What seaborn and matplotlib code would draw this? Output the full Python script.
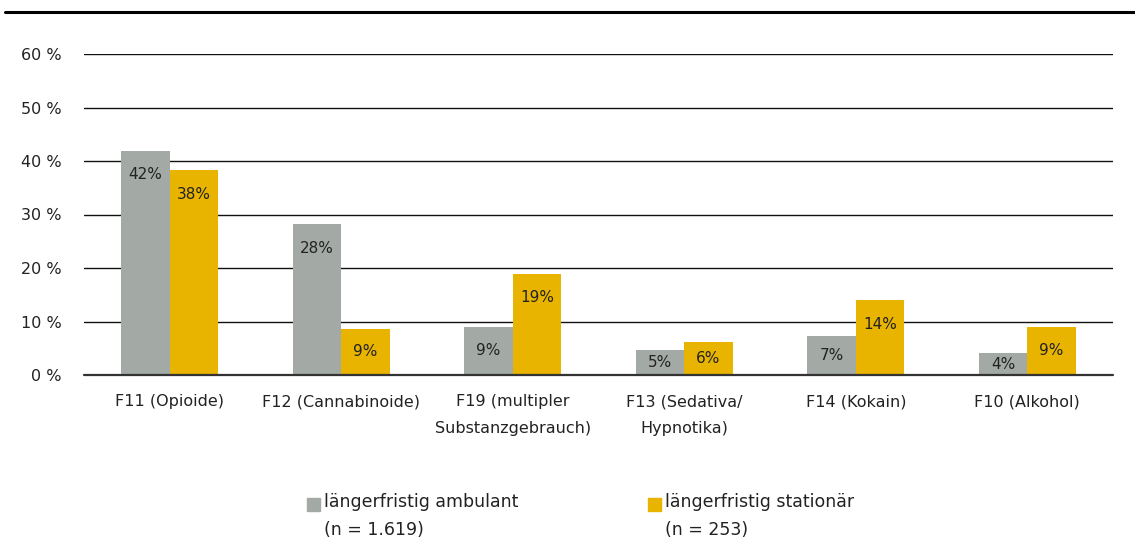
import pandas as pd
import numpy as np
import matplotlib.pyplot as plt
import seaborn as sns
from matplotlib.lines import Line2D
from matplotlib.patches import Rectangle

# --- data ---
categories = ["F11 (Opioide)", "F12 (Cannabinoide)", "F19 (multipler\nSubstanzgebrauch)",
              "F13 (Sedativa/\nHypnotika)", "F14 (Kokain)", "F10 (Alkohol)"]
ambulant = [41.9, 28.2, 9.0, 4.7, 7.3, 4.1]
stationaer = [38.3, 8.6, 18.9, 6.2, 14.0, 9.0]
labels_ambulant = ["42%", "28%", "9%", "5%", "7%", "4%"]
labels_stationaer = ["38%", "9%", "19%", "6%", "14%", "9%"]
series_names = ["längerfristig ambulant", "längerfristig stationär"]
series_n = ["(n = 1.619)", "(n = 253)"]
yticks = [0, 10, 20, 30, 40, 50, 60]

colors = ["#a3aaa5", "#e8b400"]
txt = "#222222"

df = pd.DataFrame({
    "kategorie": categories * 2,
    "anteil": ambulant + stationaer,
    "gruppe": [series_names[0]] * len(categories) + [series_names[1]] * len(categories),
})

sns.set_style("white")
plt.rcParams['font.family'] = ['DejaVu Sans']

fig = plt.figure(figsize=(11.35, 5.55), dpi=100)
ax = fig.add_axes([84 / 1135, 1 - 375 / 555, (1113 - 84) / 1135, (375 - 54) / 555])

sns.barplot(data=df, x="kategorie", y="anteil", hue="gruppe", palette=colors,
            width=0.566, gap=0, saturation=1, legend=False, ax=ax, zorder=3,
            linewidth=0)

ax.set_ylim(0, 60)
ax.set_xlim(-0.5, len(categories) - 0.5)

# value labels inside the bars: ~24 px below the top, or centred in short bars
px_per_unit = (375 - 54) / 60
for cont, labs in zip(ax.containers, [labels_ambulant, labels_stationaer]):
    for bar, lab in zip(cont, labs):
        h = bar.get_height()
        off_px = min(24, h * px_per_unit / 2)
        ax.annotate(lab, (bar.get_x() + bar.get_width() / 2, h),
                    xytext=(0, -off_px * 72 / 100), textcoords="offset points",
                    ha="center", va="center", fontsize=11, color=txt, zorder=5)

ax.set_yticks(yticks)
ax.set_yticklabels([f"{t} %" for t in yticks], fontsize=11.5, color=txt)
ax.tick_params(axis="y", length=0, pad=16)
ax.tick_params(axis="x", length=0, pad=14, labelsize=11.5, labelcolor=txt)
for t in ax.get_xticklabels():
    t.set_linespacing(2.0)
ax.set_xlabel("")
ax.set_ylabel("")
for s in ax.spines.values():
    s.set_visible(False)
ax.yaxis.grid(True, color="#111111", linewidth=1.0, zorder=0)
ax.set_axisbelow(True)
ax.axhline(0, color="#333333", linewidth=1.6, zorder=4, clip_on=False)

# heavy rule at the top of the figure
fig.add_artist(Line2D([5 / 1135, 1], [1 - 11.5 / 555] * 2, color="black", linewidth=2.2))

# legend drawn by hand (square aligned with first line)
for i, (x_sq, name, n) in enumerate(zip([307, 648], series_names, series_n)):
    fig.add_artist(Rectangle((x_sq / 1135, 1 - 511 / 555), 13 / 1135, 13 / 555,
                             transform=fig.transFigure, color=colors[i]))
    fig.text((x_sq + 17) / 1135, 1 - 502 / 555, name, fontsize=12.5, color=txt, va="center")
    fig.text((x_sq + 17) / 1135, 1 - 530 / 555, n, fontsize=12.5, color=txt, va="center")

fig.savefig("out.png", dpi=100)
